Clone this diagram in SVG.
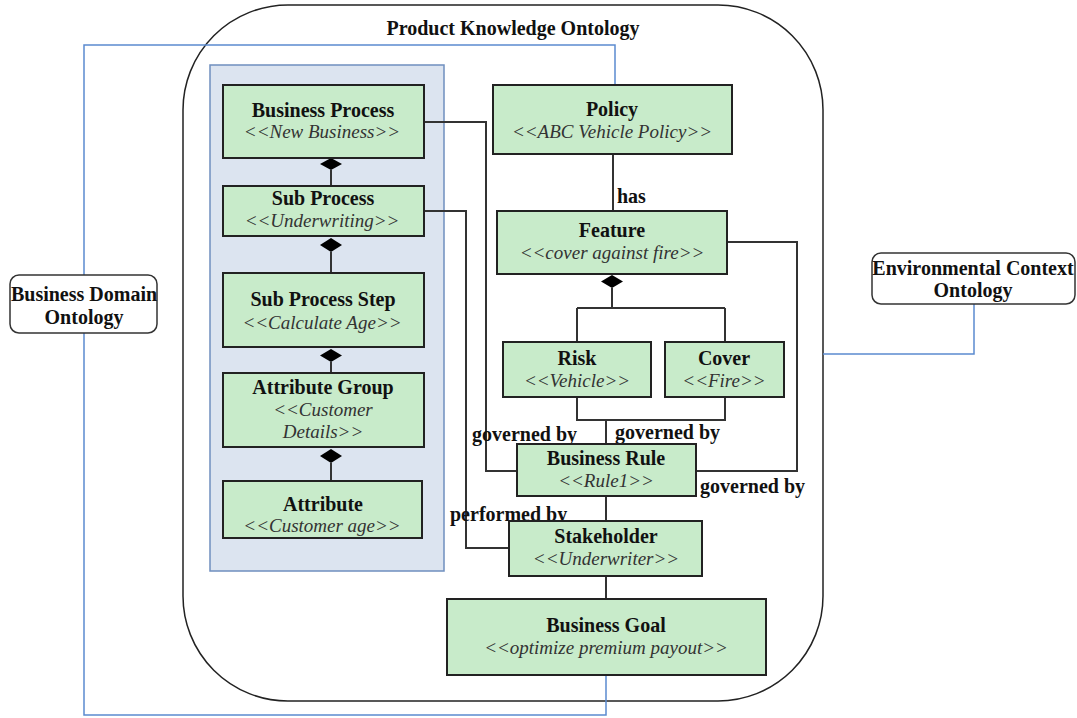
<svg xmlns="http://www.w3.org/2000/svg" width="1077" height="718" viewBox="0 0 1077 718">
<style>
.t{font-family:"Liberation Serif","Times New Roman",serif;font-weight:bold;font-size:20px;fill:#111;text-anchor:middle}
.s{font-family:"Liberation Serif","Times New Roman",serif;font-style:italic;font-size:19px;fill:#333;text-anchor:middle}
.l{font-family:"Liberation Serif","Times New Roman",serif;font-weight:bold;font-size:20px;fill:#111}
.box{fill:#c8ebca;stroke:#222;stroke-width:2}
.ext{fill:#fff;stroke:#333;stroke-width:1.5}
.c{fill:none;stroke:#333;stroke-width:2}
.b{fill:none;stroke:#5b8bd0;stroke-width:1.5}
.d{fill:#000}
</style>
<rect x="0" y="0" width="1077" height="718" fill="#fff"/>
<g id="outer">
<rect x="183" y="5" width="640" height="696" rx="105" ry="105" fill="none" stroke="#222" stroke-width="1.5"/>
<text class="t" x="513" y="35">Product Knowledge Ontology</text>
</g>
<g id="panel">
<rect x="210" y="65" width="234" height="506" fill="#dce4f0" stroke="#6f8fbf" stroke-width="1.5"/>
</g>
<g id="connectors">
<path class="b" d="M84,275 V45 H615 V86"/>
<path class="b" d="M84,333 V715 H606 V675"/>
<path class="b" d="M974,304 V354 H823"/>
<path class="c" d="M331,170 V186"/>
<path class="c" d="M331,252 V273"/>
<path class="c" d="M331,362 V373"/>
<path class="c" d="M331,463 V481"/>
<path class="c" d="M613,154 V211"/>
<path class="c" d="M612,288 V308 M577,308 H725 M577,308 V342 M725,308 V342"/>
<path class="c" d="M577,397 V420 H725 V397 M606,420 V444"/>
<path class="c" d="M727,242 H797 V471 H696"/>
<path class="c" d="M424,122 H486 V471 H517"/>
<path class="c" d="M424,211 H466 V548 H509"/>
<path class="c" d="M606,496 V521"/>
<path class="c" d="M606,576 V599"/>
<path class="d" d="M331,158 L342,164 L331,170 L320,164 Z"/>
<path class="d" d="M331,238 L342,245 L331,252 L320,245 Z"/>
<path class="d" d="M331,349 L342,355.5 L331,362 L320,355.5 Z"/>
<path class="d" d="M331,449 L342,456 L331,463 L320,456 Z"/>
<path class="d" d="M612,275 L623,281.5 L612,288 L601,281.5 Z"/>
<text class="l" x="617" y="203">has</text>
<text class="l" x="472" y="441">governed by</text>
<text class="l" x="615" y="439">governed by</text>
<text class="l" x="700" y="493">governed by</text>
<text class="l" x="450" y="521">performed by</text>
</g>
<g id="business-domain">
<rect class="ext" x="10" y="275" width="147" height="58" rx="9"/>
<text class="t" x="84" y="301">Business Domain</text>
<text class="t" x="84" y="324">Ontology</text>
</g>
<g id="environmental">
<rect class="ext" x="872" y="253" width="203" height="51" rx="9"/>
<text class="t" x="973" y="275">Environmental Context</text>
<text class="t" x="973" y="297">Ontology</text>
</g>
<g id="business-process">
<rect class="box" x="223" y="85" width="201" height="73"/>
<text class="t" x="323" y="117">Business  Process</text>
<text class="s" x="322" y="138">&lt;&lt;New Business&gt;&gt;</text>
</g>
<g id="sub-process">
<rect class="box" x="223" y="186" width="201" height="50"/>
<text class="t" x="323" y="205">Sub Process</text>
<text class="s" x="322" y="227">&lt;&lt;Underwriting&gt;&gt;</text>
</g>
<g id="sub-process-step">
<rect class="box" x="223" y="273" width="201" height="74"/>
<text class="t" x="323" y="306">Sub Process  Step</text>
<text class="s" x="322" y="329">&lt;&lt;Calculate Age&gt;&gt;</text>
</g>
<g id="attribute-group">
<rect class="box" x="223" y="373" width="201" height="74"/>
<text class="t" x="323" y="394">Attribute Group</text>
<text class="s" x="323" y="416">&lt;&lt;Customer</text>
<text class="s" x="323" y="438">Details&gt;&gt;</text>
</g>
<g id="attribute">
<rect class="box" x="223" y="481" width="199" height="57"/>
<text class="t" x="323" y="511">Attribute</text>
<text class="s" x="322" y="532">&lt;&lt;Customer age&gt;&gt;</text>
</g>
<g id="policy">
<rect class="box" x="493" y="85" width="239" height="69"/>
<text class="t" x="612" y="116">Policy</text>
<text class="s" x="612" y="138">&lt;&lt;ABC Vehicle  Policy&gt;&gt;</text>
</g>
<g id="feature">
<rect class="box" x="497" y="211" width="230" height="63"/>
<text class="t" x="612" y="237">Feature</text>
<text class="s" x="612" y="259">&lt;&lt;cover against fire&gt;&gt;</text>
</g>
<g id="risk">
<rect class="box" x="503" y="342" width="148" height="55"/>
<text class="t" x="577" y="365">Risk</text>
<text class="s" x="577" y="387">&lt;&lt;Vehicle&gt;&gt;</text>
</g>
<g id="cover">
<rect class="box" x="665" y="342" width="119" height="55"/>
<text class="t" x="724" y="365">Cover</text>
<text class="s" x="724" y="387">&lt;&lt;Fire&gt;&gt;</text>
</g>
<g id="business-rule">
<rect class="box" x="517" y="444" width="179" height="52"/>
<text class="t" x="606" y="465">Business Rule</text>
<text class="s" x="606" y="487">&lt;&lt;Rule1&gt;&gt;</text>
</g>
<g id="stakeholder">
<rect class="box" x="509" y="521" width="193" height="55"/>
<text class="t" x="606" y="543">Stakeholder</text>
<text class="s" x="606" y="565">&lt;&lt;Underwriter&gt;&gt;</text>
</g>
<g id="business-goal">
<rect class="box" x="447" y="599" width="319" height="76"/>
<text class="t" x="606" y="632">Business Goal</text>
<text class="s" x="606" y="654">&lt;&lt;optimize premium payout&gt;&gt;</text>
</g>
</svg>
